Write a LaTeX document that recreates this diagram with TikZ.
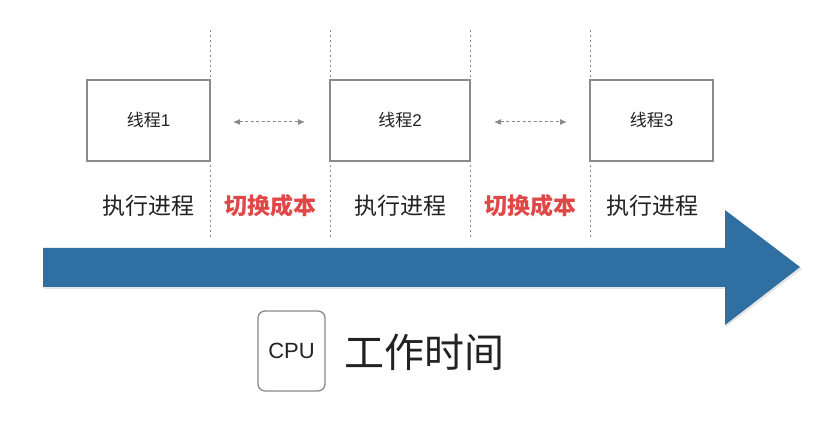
\documentclass[tikz,border=0pt]{standalone}
\usepackage{fontspec}
\setmainfont{Noto Sans CJK SC}
\newfontfamily\latinsans{Liberation Sans}
\usetikzlibrary{arrows.meta}
\definecolor{boxgray}{HTML}{8A8A8A}
\definecolor{costred}{HTML}{E04848}
\definecolor{arrowblue}{HTML}{2F6FA1}
\definecolor{txt}{HTML}{222222}
\tikzset{
  threadbox/.style={draw=boxgray,line width=1.3pt,minimum height=81pt,inner sep=0pt,font=\fontsize{17}{17}\selectfont,text=txt},
  sep/.style={draw=boxgray,line width=0.9pt,dash pattern=on 2.5pt off 2.5pt},
  switcharrow/.style={draw=boxgray,line width=1pt,dash pattern=on 3pt off 2.5pt,{Latex[length=7pt,width=6pt]}-{Latex[length=7pt,width=6pt]}},
  runlabel/.style={font=\fontsize{23}{23}\selectfont,text=txt,inner sep=0pt},
  costlabel/.style={font=\fontsize{23}{23}\selectfont\bfseries,text=costred,inner sep=0pt},
}
\begin{document}
\begin{tikzpicture}[x=1pt,y=-1pt]
\useasboundingbox[fill=white] (0,0) rectangle (836,422);
% separators
\foreach \i/\x in {1/210,2/330,3/470,4/590}{
  \coordinate (s\i t) at (\x,30);
  \coordinate (s\i b) at (\x,240);
  \draw[sep] (s\i t) -- (s\i b);
}
% thread boxes
\node[threadbox,minimum width=123pt] (t1) at (148.5,120.5) {线程{\latinsans 1}};
\node[threadbox,minimum width=140pt] (t2) at (400,120.5) {线程{\latinsans 2}};
\node[threadbox,minimum width=123pt] (t3) at (651.5,120.5) {线程{\latinsans 3}};
% switching arrows
\coordinate (a1l) at (233,122); \coordinate (a1r) at (305,122);
\coordinate (a2l) at (494,122); \coordinate (a2r) at (567,122);
\draw[switcharrow] (a1l) -- (a1r);
\draw[switcharrow] (a2l) -- (a2r);
% labels
\node[runlabel] (r1) at (148,206) {执行进程};
\node[costlabel] (c1) at (270,206) {切换成本};
\node[runlabel] (r2) at (400,206) {执行进程};
\node[costlabel] (c2) at (530,206) {切换成本};
\node[runlabel] (r3) at (652,206) {执行进程};
% big arrow
\fill[black!25,opacity=0.4] (44,250) -- (726,250) -- (726,212) -- (802,269) -- (726,327) -- (726,289) -- (44,289) -- cycle;
\fill[arrowblue] (43,248) -- (725,248) -- (725,210) -- (800,267) -- (725,325) -- (725,287) -- (43,287) -- cycle;
% CPU legend
\node[draw=boxgray,line width=1.3pt,rounded corners=7pt,minimum width=67pt,minimum height=80pt,inner sep=0pt,font=\latinsans\fontsize{22}{22}\selectfont,text=txt] (cpu) at (291.5,351) {CPU};
\node[font=\fontsize{40}{40}\selectfont,text=txt,inner sep=0pt,anchor=west] (work) at (344,352) {工作时间};
\end{tikzpicture}
\end{document}
